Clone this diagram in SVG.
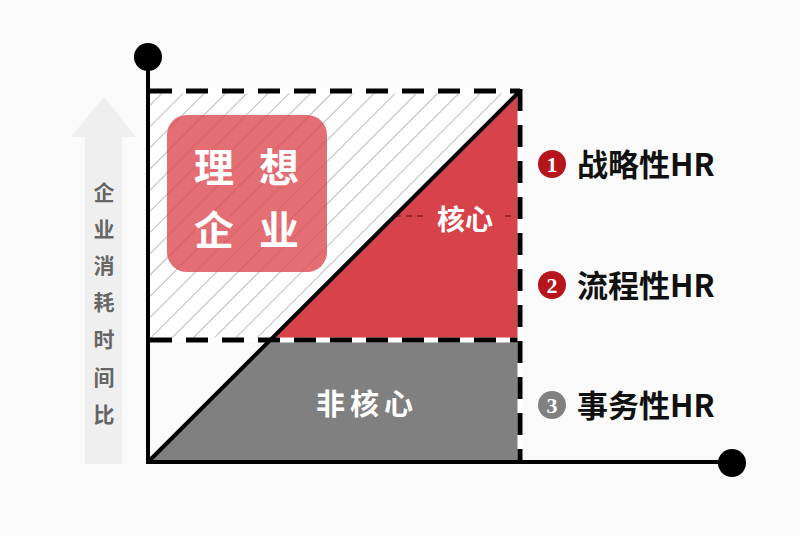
<svg xmlns="http://www.w3.org/2000/svg" width="800" height="536" viewBox="0 0 800 536">
<defs>
<pattern id="hatch" patternUnits="userSpaceOnUse" width="15" height="15" patternTransform="rotate(45)">
<line x1="0" y1="0" x2="0" y2="15" stroke="#aaaaaa" stroke-width="1.6"/>
</pattern>
<style>
.dash{stroke:#000;stroke-width:5;stroke-dasharray:22 14;fill:none}
.under{stroke:#fff;stroke-width:5;fill:none}
.axis{stroke:#000;stroke-width:4;fill:none}
.cn{font-family:"Noto Sans CJK SC","Noto Sans",sans-serif;font-weight:bold}
.lab{font-size:31px;fill:#111}
.num{font-family:"Liberation Serif",serif;font-weight:bold;font-size:22px;fill:#fff;text-anchor:middle}
.vt{font-size:21px;fill:#666;text-anchor:middle}
.big{font-size:40px;fill:#fff;text-anchor:middle}
</style>
</defs>
<rect width="800" height="536" fill="#fafafa"/>
<g id="yaxis-label">
<polygon points="104,97 136,137 122,137 122,464 85,464 85,137 71,137" fill="#efefef"/>
<text class="cn vt" x="104" y="200">企</text>
<text class="cn vt" x="104" y="237">业</text>
<text class="cn vt" x="104" y="273">消</text>
<text class="cn vt" x="104" y="310">耗</text>
<text class="cn vt" x="104" y="347">时</text>
<text class="cn vt" x="104" y="385">间</text>
<text class="cn vt" x="104" y="422">比</text>
</g>
<g id="ideal-area">
<polygon points="148,91 520,91 270,340 148,340" fill="#fff"/>
<polygon points="148,91 520,91 270,340 148,340" fill="url(#hatch)"/>
</g>
<g id="core">
<polygon points="270,340 520,91 520,340" fill="#d7434b"/>
<line x1="395" y1="216" x2="516" y2="216" stroke="#8a1f25" stroke-width="1.5" stroke-dasharray="6 5"/>
<rect x="428" y="198" width="74" height="36" fill="#d7434b"/>
<text class="cn" x="465" y="230" font-size="28" fill="#fff" text-anchor="middle">核心</text>
</g>
<g id="noncore">
<polygon points="148,462 270,340 520,340 520,462" fill="#808080"/>
<text class="cn" x="316" y="415" font-size="29" fill="#fff" letter-spacing="5">非核心</text>
</g>
<g id="ideal-box">
<rect x="167" y="115" width="160" height="157" rx="20" fill="#dc4a50" opacity="0.8"/>
<text class="cn big" x="214" y="182">理</text>
<text class="cn big" x="279" y="182">想</text>
<text class="cn big" x="214" y="245">企</text>
<text class="cn big" x="279" y="245">业</text>
</g>
<g id="connectors">
<line class="under" x1="148" y1="91" x2="520" y2="91"/>
<line class="dash" x1="150" y1="91" x2="520" y2="91"/>
<line class="under" x1="148" y1="340" x2="520" y2="340"/>
<line class="dash" x1="150" y1="340" x2="520" y2="340"/>
<line class="under" x1="520" y1="91" x2="520" y2="462"/>
<line class="dash" x1="520" y1="89" x2="520" y2="462"/>
<line class="axis" x1="148" y1="462" x2="520" y2="91"/>
<line class="axis" x1="148" y1="57" x2="148" y2="464"/>
<line class="axis" x1="146" y1="462" x2="732" y2="462"/>
<circle cx="148" cy="57" r="14" fill="#000"/>
<circle cx="732" cy="463" r="14" fill="#000"/>
</g>
<g id="label1">
<circle cx="552" cy="164" r="14" fill="#b5151b"/>
<text class="num" x="552" y="172">1</text>
<text class="cn lab" x="577" y="176">战略性HR</text>
</g>
<g id="label2">
<circle cx="552" cy="285" r="14" fill="#b5151b"/>
<text class="num" x="552" y="293">2</text>
<text class="cn lab" x="577" y="297">流程性HR</text>
</g>
<g id="label3">
<circle cx="552" cy="405" r="14" fill="#808080"/>
<text class="num" x="552" y="413">3</text>
<text class="cn lab" x="577" y="417">事务性HR</text>
</g>
</svg>
